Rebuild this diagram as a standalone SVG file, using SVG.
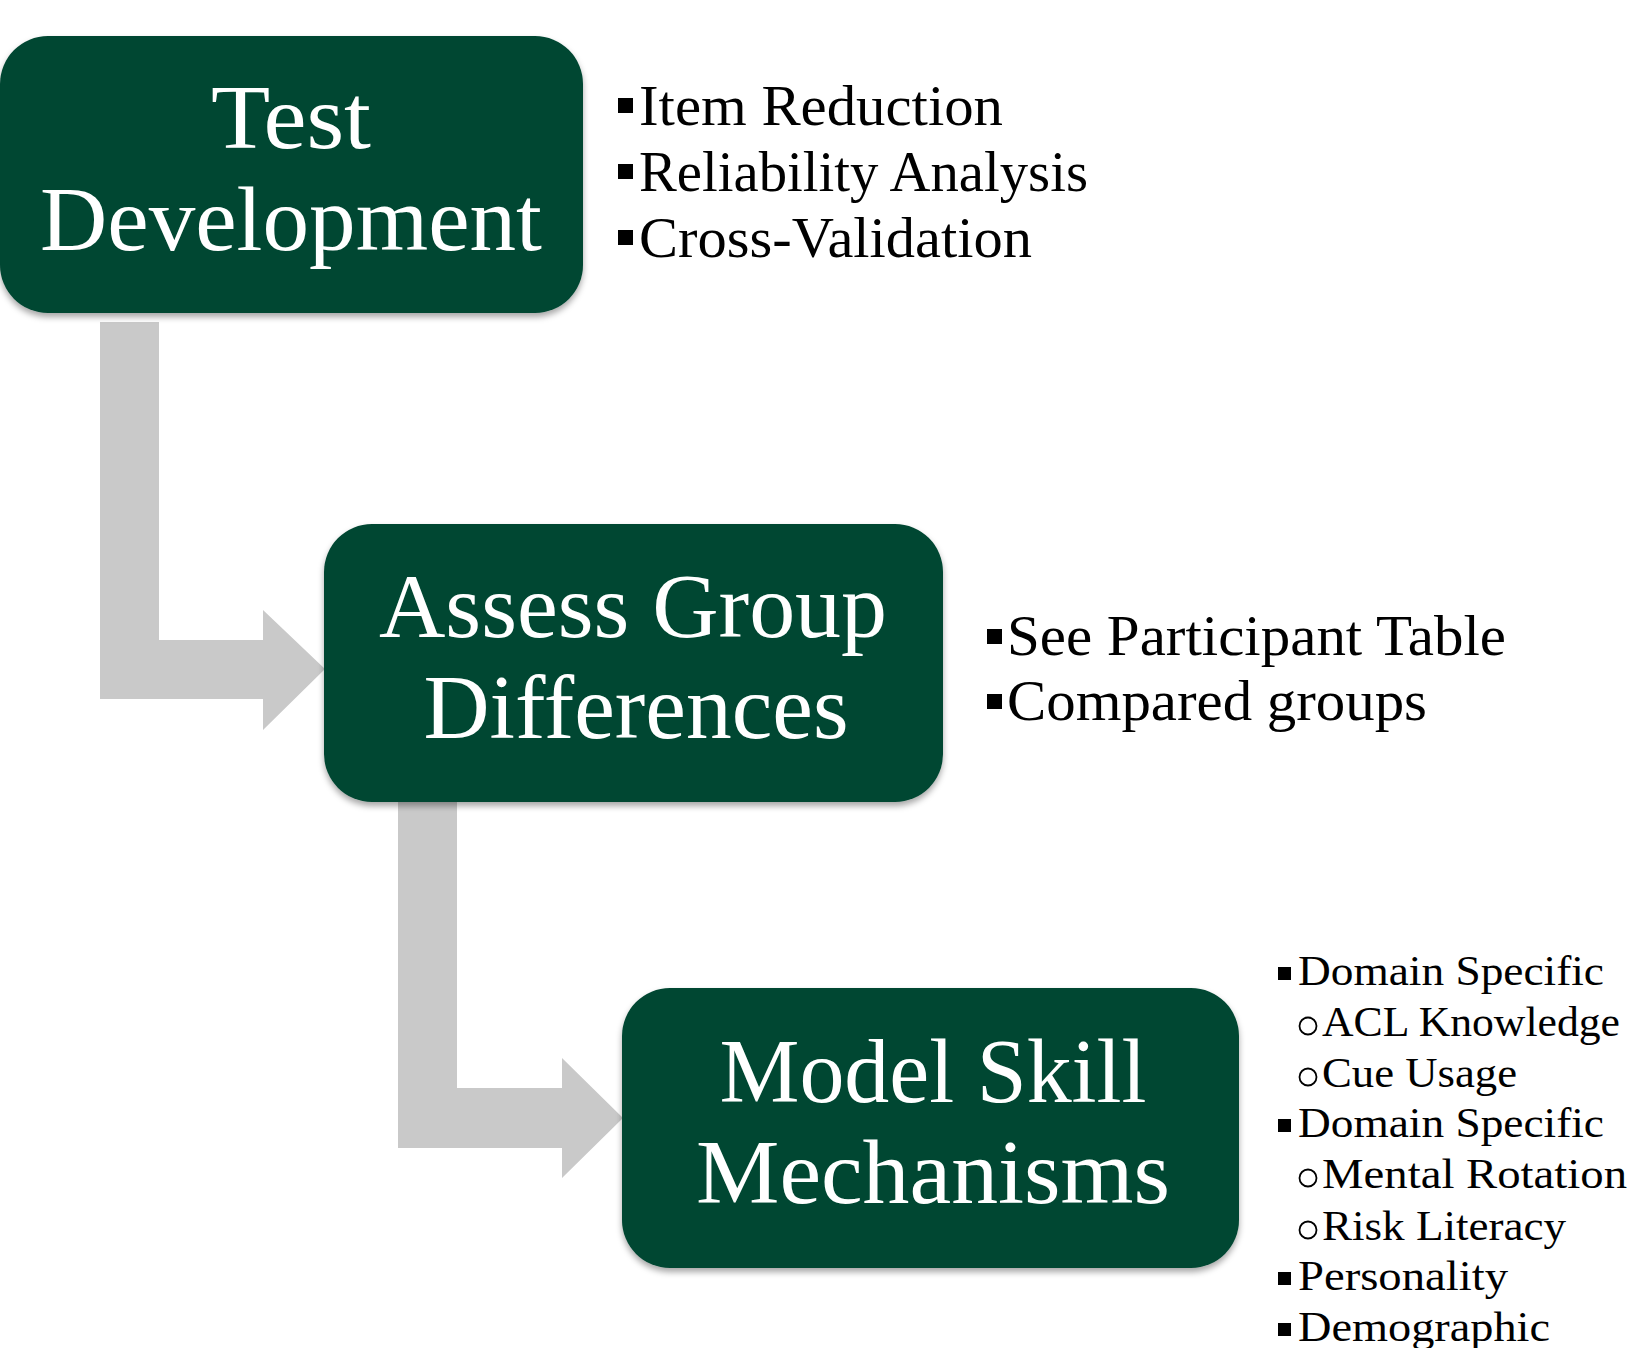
<svg xmlns="http://www.w3.org/2000/svg" width="1629" height="1348" viewBox="0 0 1629 1348">
<style>
.box{fill:#034632;filter:url(#sh)}
.bt{font-family:"Liberation Serif","Times New Roman",serif;font-size:90px;fill:#ffffff;text-anchor:middle}
.lt{font-family:"Liberation Serif","Times New Roman",serif;font-size:56px;fill:#000000}
.st{font-family:"Liberation Serif","Times New Roman",serif;font-size:43px;fill:#000000}
.arrow{fill:#c9c9c9}
.sq{fill:#000000}
.ci{fill:none;stroke:#000000;stroke-width:1.8}
</style>
<defs>
<filter id="sh" x="-10%" y="-10%" width="120%" height="125%">
<feDropShadow dx="0" dy="4" stdDeviation="3" flood-color="#000000" flood-opacity="0.35"/>
</filter>
</defs>
<rect width="1629" height="1348" fill="#ffffff"/>
<g id="connectors">
<polygon class="arrow" points="100,322 159,322 159,640 263,640 263,610 325,669 263,730 263,699 100,699"/>
<polygon class="arrow" points="398,800 457,800 457,1088 562,1088 562,1058 623,1118 562,1178 562,1148 398,1148"/>
</g>
<g id="node-test-development">
<rect class="box" x="0" y="36" width="583" height="277" rx="48"/>
<text class="bt" x="291" y="148" textLength="160" lengthAdjust="spacingAndGlyphs">Test</text>
<text class="bt" x="291" y="250" textLength="502" lengthAdjust="spacingAndGlyphs">Development</text>
</g>
<g id="node-assess-group-differences">
<rect class="box" x="324" y="524" width="619" height="278" rx="48"/>
<text class="bt" x="633" y="637" textLength="508" lengthAdjust="spacingAndGlyphs">Assess Group</text>
<text class="bt" x="636" y="738" textLength="425" lengthAdjust="spacingAndGlyphs">Differences</text>
</g>
<g id="node-model-skill-mechanisms">
<rect class="box" x="622" y="988" width="617" height="280" rx="48"/>
<text class="bt" x="933" y="1102" textLength="427" lengthAdjust="spacingAndGlyphs">Model Skill</text>
<text class="bt" x="933" y="1203" textLength="474" lengthAdjust="spacingAndGlyphs">Mechanisms</text>
</g>
<g id="list-test-development">
<rect class="sq" x="618" y="98" width="15" height="15"/>
<text class="lt" x="639" y="125" textLength="364" lengthAdjust="spacingAndGlyphs">Item Reduction</text>
<rect class="sq" x="618" y="164" width="15" height="15"/>
<text class="lt" x="639" y="191" textLength="449" lengthAdjust="spacingAndGlyphs">Reliability Analysis</text>
<rect class="sq" x="618" y="230" width="15" height="15"/>
<text class="lt" x="639" y="257" textLength="393" lengthAdjust="spacingAndGlyphs">Cross-Validation</text>
</g>
<g id="list-assess-group-differences">
<rect class="sq" x="987" y="629" width="15" height="15"/>
<text class="lt" x="1007" y="655" textLength="499" lengthAdjust="spacingAndGlyphs">See Participant Table</text>
<rect class="sq" x="987" y="694" width="15" height="15"/>
<text class="lt" x="1007" y="720" textLength="420" lengthAdjust="spacingAndGlyphs">Compared groups</text>
</g>
<g id="list-model-skill-mechanisms">
<rect class="sq" x="1278" y="967" width="13" height="13"/>
<text class="st" x="1298" y="985" textLength="306" lengthAdjust="spacingAndGlyphs">Domain Specific</text>
<circle class="ci" cx="1308" cy="1026" r="8.5"/>
<text class="st" x="1322" y="1036" textLength="298" lengthAdjust="spacingAndGlyphs">ACL Knowledge</text>
<circle class="ci" cx="1308" cy="1077" r="8.5"/>
<text class="st" x="1322" y="1087" textLength="195" lengthAdjust="spacingAndGlyphs">Cue Usage</text>
<rect class="sq" x="1278" y="1119" width="13" height="13"/>
<text class="st" x="1298" y="1137" textLength="306" lengthAdjust="spacingAndGlyphs">Domain Specific</text>
<circle class="ci" cx="1308" cy="1178" r="8.5"/>
<text class="st" x="1322" y="1188" textLength="305" lengthAdjust="spacingAndGlyphs">Mental Rotation</text>
<circle class="ci" cx="1308" cy="1230" r="8.5"/>
<text class="st" x="1322" y="1240" textLength="244" lengthAdjust="spacingAndGlyphs">Risk Literacy</text>
<rect class="sq" x="1278" y="1272" width="13" height="13"/>
<text class="st" x="1298" y="1290" textLength="210" lengthAdjust="spacingAndGlyphs">Personality</text>
<rect class="sq" x="1278" y="1323" width="13" height="13"/>
<text class="st" x="1298" y="1341" textLength="252" lengthAdjust="spacingAndGlyphs">Demographic</text>
</g>
</svg>
